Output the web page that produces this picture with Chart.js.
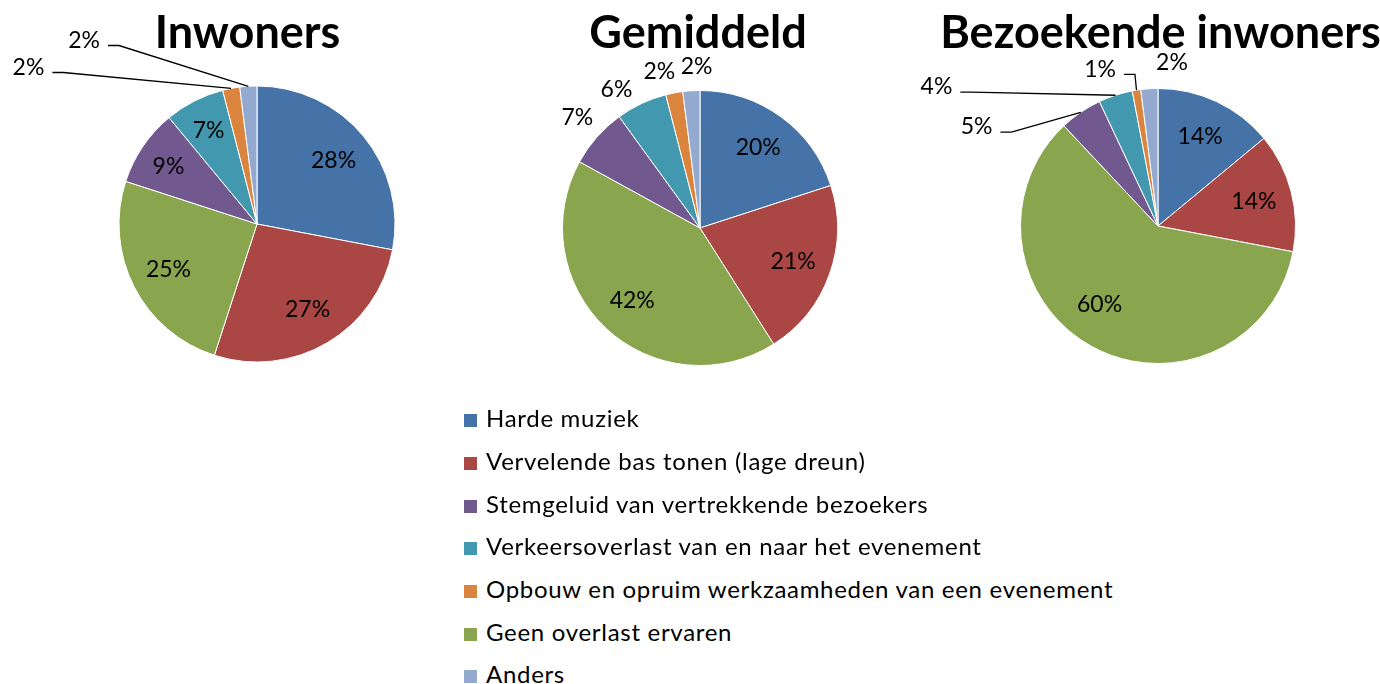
<!DOCTYPE html>
<html>
<head>
<meta charset="utf-8">
<script src="https://cdn.jsdelivr.net/npm/chart.js@4.4.1/dist/chart.umd.min.js"></script>
<style>
  html, body { margin: 0; padding: 0; background: #fff; width: 1380px; height: 684px; overflow: hidden; position: relative; }
  .pie { position: absolute; width: 500px; height: 440px; }
  .title { position: absolute; top: 3.6px; width: 600px; text-align: center; font: bold 45px/54px Lato, sans-serif; color: #000; white-space: nowrap; }
  #legend { position: absolute; left: 464px; top: 0; font-family: Lato, sans-serif; font-size: 24px; letter-spacing: 0.7px; color: #000; }
  .row { position: absolute; left: 0; height: 43px; display: flex; align-items: center; white-space: nowrap; }
  .row span.t { position: relative; top: -3px; }
  .sw { width: 13px; height: 13px; margin-right: 9px; flex: none; }
</style>
</head>
<body>
<div class="pie" style="left:6.5px;top:4px"><canvas id="c0"></canvas></div>
<div class="pie" style="left:449.5px;top:7.5px"><canvas id="c1"></canvas></div>
<div class="pie" style="left:907.5px;top:5.5px"><canvas id="c2"></canvas></div>
<div class="title" style="left:-52.5px" id="t0"></div>
<div class="title" style="left:398px" id="t1"></div>
<div class="title" style="left:860.5px" id="t2"></div>
<div id="legend"></div>
<script>
// slice order as drawn clockwise from 12 o'clock
const categories = [
  'Harde muziek',
  'Vervelende bas tonen (lage dreun)',
  'Geen overlast ervaren',
  'Stemgeluid van vertrekkende bezoekers',
  'Verkeersoverlast van en naar het evenement',
  'Opbouw en opruim werkzaamheden van een evenement',
  'Anders'
];
const colors = ['#4572A7', '#AA4643', '#89A54E', '#71588F', '#4198AF', '#DB843D', '#93A9CF'];
const legendOrder = [0, 1, 3, 4, 5, 2, 6];

const titles = ['Inwoners', 'Gemiddeld', 'Bezoekende inwoners'];
const inwoners = [28, 27, 25, 9, 7, 2, 2];
const gemiddeld = [20, 21, 42, 7, 6, 2, 2];
const bezoekende = [14, 14, 60, 5, 4, 1, 2];
const series = [inwoners, gemiddeld, bezoekende];

// label placement: [compass angle deg, distance in radii, leader line]; null = inside at slice middle
const labelSpots = [
  [null, null, null, [303, 0.765], [332.5, 0.76], [304.4, 2.007, true], [316.7, 1.827, true]],
  [null, null, null, [312, 1.2], [328.8, 1.173], [345.4, 1.172], [358.8, 1.171]],
  [null, null, [216.5, 0.715], [298.6, 1.503, true], [302.1, 1.902, true], [339.7, 1.214, true], [4.9, 1.19]]
];
const radii = [138, 137.5, 137.5];

const pctLabels = {
  id: 'pctLabels',
  afterDatasetsDraw(chart, args, opts) {
    const ctx = chart.ctx;
    const arcs = chart.getDatasetMeta(0).data;
    const vals = chart.data.datasets[0].data;
    ctx.save();
    ctx.font = '23px Lato, sans-serif';
    ctx.fillStyle = '#000';
    ctx.strokeStyle = '#000';
    ctx.lineWidth = 1.3;
    ctx.textAlign = 'center';
    ctx.textBaseline = 'middle';
    arcs.forEach((arc, i) => {
      const { x, y, startAngle, endAngle, outerRadius: r } =
        arc.getProps(['x', 'y', 'startAngle', 'endAngle', 'outerRadius'], true);
      const mid = (startAngle + endAngle) / 2;
      const spot = opts.spots[i];
      const a = spot ? spot[0] * Math.PI / 180 - Math.PI / 2 : mid;
      const d = (spot ? spot[1] : 0.72) * r;
      const lx = x + Math.cos(a) * d, ly = y + Math.sin(a) * d;
      const txt = vals[i] + '%';
      if (spot && spot[2]) {
        const w = ctx.measureText(txt).width;
        const ey = ly + 5;
        ctx.beginPath();
        ctx.moveTo(lx + w / 2 + 8, ey);
        ctx.lineTo(lx + w / 2 + 19, ey);
        ctx.lineTo(x + Math.cos(mid) * r, y + Math.sin(mid) * r);
        ctx.stroke();
      }
      ctx.fillText(txt, lx, ly);
    });
    ctx.restore();
  }
};

function build() {
  series.forEach((vals, k) => {
    document.getElementById('t' + k).textContent = titles[k];
    new Chart(document.getElementById('c' + k), {
      type: 'pie',
      data: {
        labels: categories,
        datasets: [{
          data: vals,
          backgroundColor: colors,
          borderColor: '#fff',
          borderWidth: 1,
          radius: radii[k]
        }]
      },
      options: {
        responsive: true,
        maintainAspectRatio: false,
        animation: false,
        layout: { padding: 0 },
        plugins: {
          legend: { display: false },
          tooltip: { enabled: false },
          pctLabels: { spots: labelSpots[k] }
        }
      },
      plugins: [pctLabels]
    });
  });

  const legend = document.getElementById('legend');
  legendOrder.forEach((idx, i) => {
    const row = document.createElement('div');
    row.className = 'row';
    row.style.top = (399.2 + i * 42.67) + 'px';
    const sw = document.createElement('span');
    sw.className = 'sw';
    sw.style.background = colors[idx];
    const t = document.createElement('span');
    t.className = 't';
    t.textContent = categories[idx];
    row.appendChild(sw);
    row.appendChild(t);
    legend.appendChild(row);
  });
}

Promise.all([
  document.fonts.load('bold 45px Lato'),
  document.fonts.load('23px Lato')
]).then(build, build);
</script>
</body>
</html>
